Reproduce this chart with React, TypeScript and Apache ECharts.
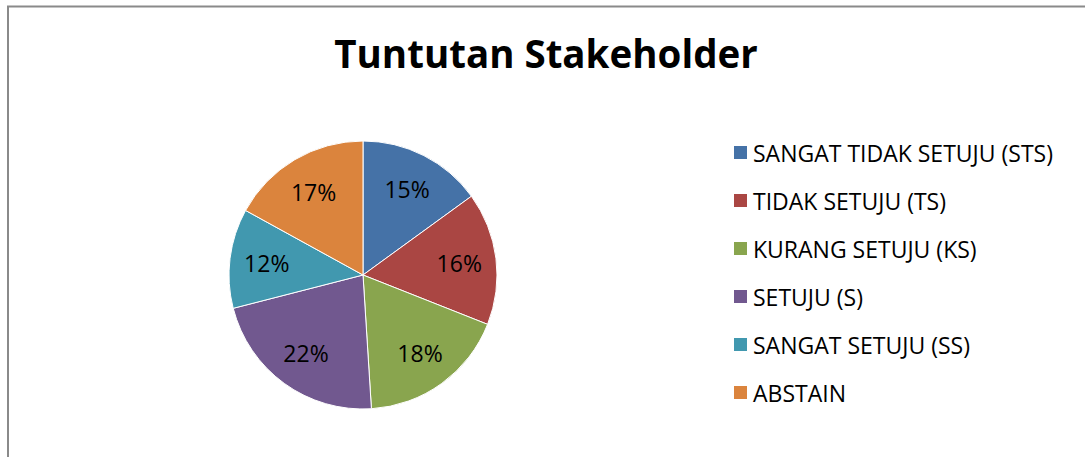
import React, { useEffect, useRef } from "react";
import * as echarts from "echarts";

const categories = [
  "SANGAT TIDAK SETUJU (STS)",
  "TIDAK SETUJU (TS)",
  "KURANG SETUJU (KS)",
  "SETUJU (S)",
  "SANGAT SETUJU (SS)",
  "ABSTAIN",
];
const values = [15, 16, 18, 22, 12, 17];
const colors = ["#4572A7", "#AA4643", "#89A54E", "#71588F", "#4198AF", "#DB843D"];
const titleText = "Tuntutan Stakeholder";

const FONT = "'Open Sans', 'Noto Sans', sans-serif";

export default function App() {
  const ref = useRef<HTMLDivElement>(null);
  useEffect(() => {
    if (!ref.current) return;
    const chart = echarts.init(ref.current, undefined, { renderer: "svg" });
    const data = categories.map((name, i) => ({ name, value: values[i] }));
    chart.setOption({
      animation: false,
      color: colors,
      title: {
        text: titleText,
        left: 546,
        textAlign: "center",
        top: 33,
        padding: 0,
        textStyle: { fontFamily: FONT, fontWeight: "bold", fontSize: 38.5, color: "#000" },
      },
      legend: {
        orient: "vertical",
        left: 732,
        top: 141,
        padding: 0,
        itemWidth: 15,
        itemHeight: 15,
        itemGap: 25,
        icon: "rect",
        data: categories,
        textStyle: { fontFamily: FONT, fontSize: 23, color: "#000", padding: [0, 0, 0, 0] },
      },
      graphic: [
        {
          type: "rect",
          shape: { x: 8, y: 6.5, width: 1200, height: 600 },
          style: { fill: "none", stroke: "#8a8a8a", lineWidth: 2 },
          silent: true,
        },
      ],
      series: [
        {
          type: "pie",
          center: [363, 275],
          radius: [0, 134],
          startAngle: 90,
          clockwise: true,
          label: { show: false },
          labelLine: { show: false },
          itemStyle: { borderColor: "#fff", borderWidth: 1 },
          emphasis: { disabled: true },
          data,
        },
        {
          type: "pie",
          center: [363, 275],
          radius: [54, 134],
          startAngle: 90,
          clockwise: true,
          silent: true,
          legendHoverLink: false,
          itemStyle: { color: "rgba(0,0,0,0)" },
          label: {
            show: true,
            position: "inside",
            formatter: (p: any) => `${p.value}%`,
            fontFamily: FONT,
            fontSize: 23,
            color: "#000",
          },
          labelLine: { show: false },
          emphasis: { disabled: true },
          data: data.map((d) => ({ ...d, name: d.name + " " })),
        },
      ],
    });
    return () => chart.dispose();
  }, []);
  return (
    <div
      ref={ref}
      style={{ position: "fixed", left: 0, top: 0, width: 1085, height: 457, background: "#fff" }}
    />
  );
}
